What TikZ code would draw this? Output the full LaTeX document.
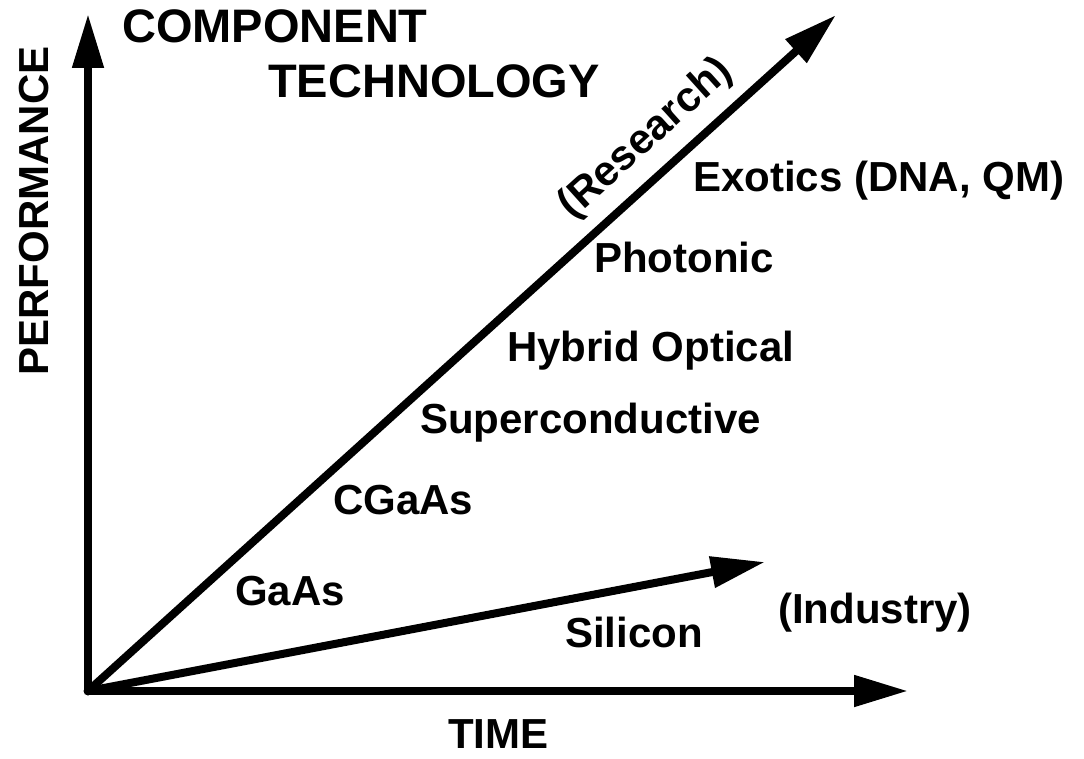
\documentclass[tikz,border=0pt]{standalone}
\usepackage{fontspec}
\setmainfont{Liberation Sans}
\usetikzlibrary{arrows.meta}
\begin{document}
\begin{tikzpicture}[x=1pt,y=-1pt,
  lbl/.style={inner sep=0pt,anchor=base west,font=\bfseries\fontsize{42}{50}\selectfont},
  ttl/.style={inner sep=0pt,anchor=base west,font=\bfseries\fontsize{47}{56}\selectfont},
  axis/.style={line width=8pt,-{Triangle[length=54pt,width=30pt]}}]
\useasboundingbox[fill=white] (0,0) rectangle (1084,759);
\coordinate (O) at (88,691);
\coordinate (ytip) at (88,14);
\coordinate (xtip) at (908,691);
\coordinate (rtip) at (836,15);
\coordinate (itip) at (765,562);
\draw[axis] (O) -- (ytip);
\draw[axis] (O) -- (xtip);
\draw[axis] (O) -- (rtip);
\draw[axis] (O) -- (itip);
\fill (O) circle (4.5pt);
\node[ttl] (comp) at (122,43) {COMPONENT};
\node[ttl] (tech) at (268,98) {TECHNOLOGY};
\node[lbl,anchor=base,rotate=90] (perf) at (48,211) {PERFORMANCE};
\node[lbl,anchor=center,rotate=42] (res) at (646,139) {(Research)};
\node[lbl] (exo) at (693,192) {Exotics (DNA, QM)};
\node[lbl] (pho) at (594,273) {Photonic};
\node[lbl] (hyb) at (507,361) {Hybrid Optical};
\node[lbl] (sup) at (420,433) {Superconductive};
\node[lbl] (cga) at (333,514) {CGaAs};
\node[lbl] (gaa) at (235,605) {GaAs};
\node[lbl] (sil) at (565,647) {Silicon};
\node[lbl] (ind) at (778,623) {(Industry)};
\node[lbl] (time) at (448,748) {TIME};
\end{tikzpicture}
\end{document}
